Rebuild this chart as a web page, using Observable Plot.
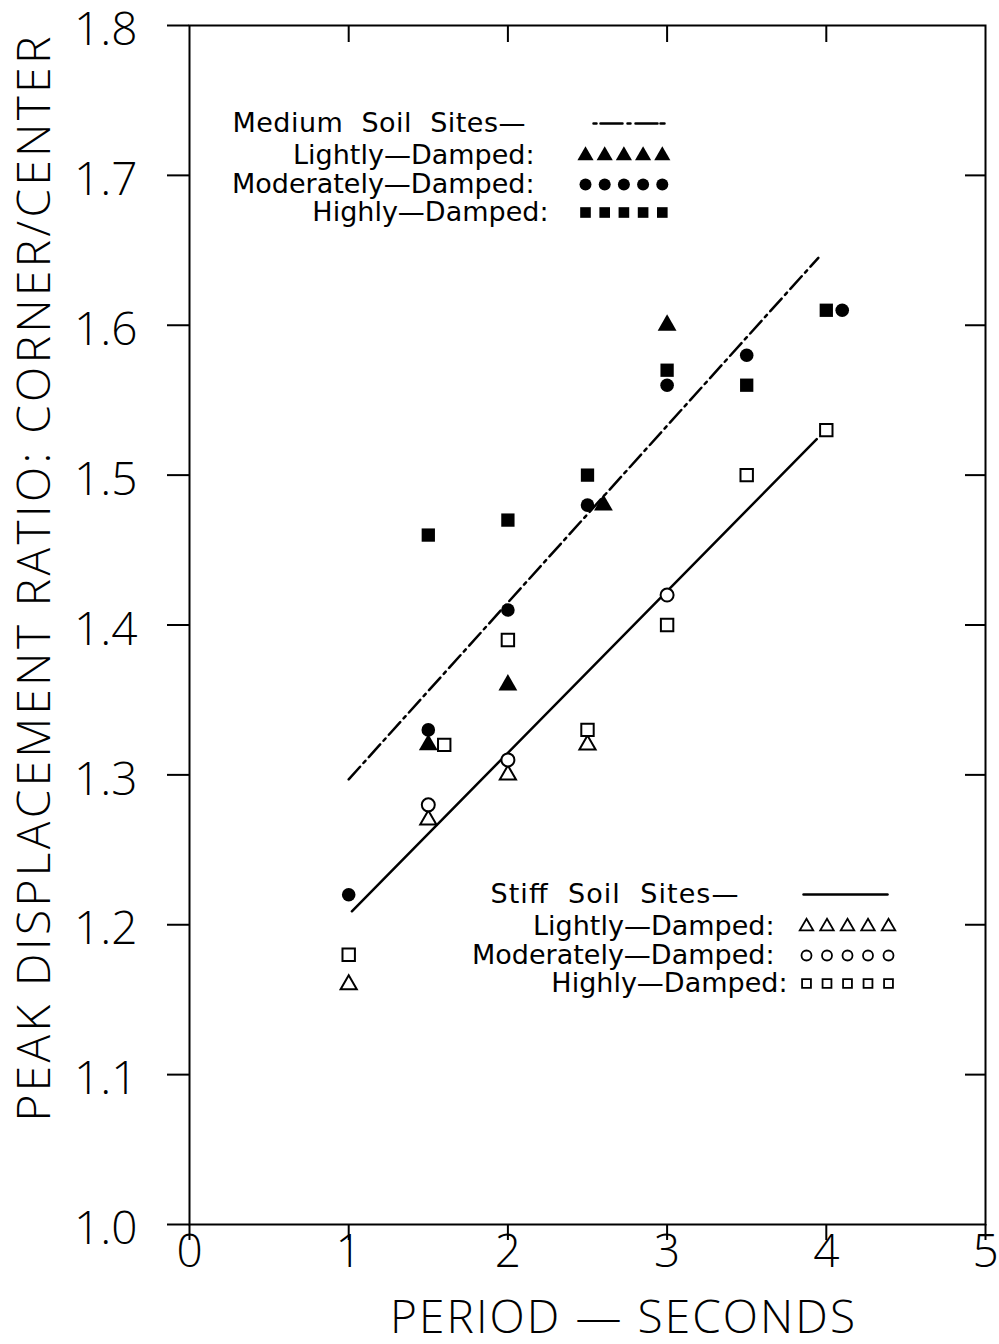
<!DOCTYPE html>
<html>
<head>
<meta charset="utf-8">
<script src="https://cdn.jsdelivr.net/npm/d3@7"></script>
<script src="https://cdn.jsdelivr.net/npm/@observablehq/plot@0.6"></script>
<style>
  html, body { margin: 0; padding: 0; background: #fff; }
</style>
</head>
<body>
<div id="chart"></div>
<script>
// ---------- data ----------
const xTicks = [0, 1, 2, 3, 4, 5];
const yTicks = [1.0, 1.1, 1.2, 1.3, 1.4, 1.5, 1.6, 1.7, 1.8];
const xLabel = "PERIOD — SECONDS";
const yLabel = "PEAK DISPLACEMENT RATIO: CORNER/CENTER";

// Medium soil sites (filled symbols)
const mediumLightX = [1.5, 2.0, 2.6, 3.0];
const mediumLightY = [1.32, 1.36, 1.48, 1.60];
const mediumModX   = [1.0, 1.5, 2.0, 2.5, 3.0, 3.5, 4.1];
const mediumModY   = [1.22, 1.33, 1.41, 1.48, 1.56, 1.58, 1.61];
const mediumHighX  = [1.5, 2.0, 2.5, 3.0, 3.5, 4.0];
const mediumHighY  = [1.46, 1.47, 1.50, 1.57, 1.56, 1.61];

// Stiff soil sites (open symbols)
const stiffLightX = [1.0, 1.5, 2.0, 2.5];
const stiffLightY = [1.16, 1.27, 1.30, 1.32];
const stiffModX   = [1.5, 2.0, 3.0];
const stiffModY   = [1.28, 1.31, 1.42];
const stiffHighX  = [1.0, 1.6, 2.0, 2.5, 3.0, 3.5, 4.0];
const stiffHighY  = [1.18, 1.32, 1.39, 1.33, 1.40, 1.50, 1.53];

// fitted lines (end points)
const mediumFitX = [1.0, 3.95];
const mediumFitY = [1.297, 1.645];
const stiffFitX  = [1.02, 3.94];
const stiffFitY  = [1.209, 1.524];

// legend text
const mediumLegendTitle = "Medium  Soil  Sites—";
const stiffLegendTitle  = "Stiff  Soil  Sites—";
const legendRows = ["Lightly—Damped:", "Moderately—Damped:", "Highly—Damped:"];
const legendSymbols = ["triangle", "circle", "square"];

// ---------- layout ----------
const W = 999, H = 1344;
const mL = 189, mR = 14, mT = 25, mB = 120;
const fw = W - mL - mR, fh = H - mT - mB;
const xDom = [0, 5], yDom = [1.0, 1.8];
const X = px => xDom[0] + (px - mL) / fw * (xDom[1] - xDom[0]);
const Y = py => yDom[1] - (py - mT) / fh * (yDom[1] - yDom[0]);

const zip = (xs, ys) => xs.map((x, i) => ({x, y: ys[i]}));

const tickFont = "'Open Sans', 'DejaVu Sans', sans-serif";
const legendFont = "'DejaVu Sans', sans-serif";

// legend geometry (pixels)
const medRowsY = [123, 155, 184, 212];
const stiffRowsY = [894, 926, 955, 983];
const medSymX0 = 585, medSymStep = 19.2;
const stiffSymX0 = 806, stiffSymStep = 20.5;
const five = [0, 1, 2, 3, 4];

const medLegendSym = legendSymbols.flatMap((s, r) => five.map(k => ({x: X(medSymX0 + k * medSymStep), y: Y(medRowsY[r + 1]), s})));
const stiffLegendSym = legendSymbols.flatMap((s, r) => five.map(k => ({x: X(stiffSymX0 + k * stiffSymStep), y: Y(stiffRowsY[r + 1]), s})));

const medLegendText = legendRows.map((t, r) => ({x: X([534, 534, 548][r]), y: Y(medRowsY[r + 1]), t}));
const stiffLegendText = legendRows.map((t, r) => ({x: X([774, 774, 787][r]), y: Y(stiffRowsY[r + 1]), t}));

const filled = {fill: "black", stroke: "none"};
const open = {fill: "white", stroke: "black", strokeWidth: 2};
const legendFs = 27;

const chart = Plot.plot({
  width: W, height: H,
  marginLeft: mL, marginRight: mR, marginTop: mT, marginBottom: mB,
  x: {domain: xDom},
  y: {domain: yDom},
  style: {fontFamily: tickFont, background: "white", color: "black", overflow: "visible"},
  marks: [
    Plot.frame({stroke: "black", strokeWidth: 2}),
    // left axis: outward ticks
    Plot.axisY({anchor: "left", ticks: yTicks, tickSize: 22, tickFormat: () => "", strokeWidth: 2, label: null}),
    // left axis labels
    Plot.axisY({anchor: "left", ticks: yTicks, tickSize: 0, tickPadding: 52, tickFormat: d3.format(".1f"), fontSize: 46, fontWeight: 300, label: null, dy: 5}),
    // right axis: inward ticks
    Plot.tickY(yTicks.slice(1, -1), {y: d => d, insetLeft: fw - 20, stroke: "black", strokeWidth: 2}),
    // bottom axis
    Plot.axisX({anchor: "bottom", ticks: xTicks, tickSize: 16, tickPadding: -6, tickFormat: d3.format("d"), fontSize: 46, fontWeight: 300, strokeWidth: 2, label: null}),
    // top axis: inward ticks
    Plot.tickX(xTicks.slice(1, -1), {x: d => d, insetBottom: fh - 17, stroke: "black", strokeWidth: 2}),
    // axis titles
    Plot.text([yLabel], {frameAnchor: "left", textAnchor: "middle", rotate: -90, dx: -154, dy: -46, fontSize: 46, fontWeight: 300, fill: "black", className: "ylabel"}),
    Plot.text([xLabel], {frameAnchor: "bottom", textAnchor: "middle", dx: 35, dy: 108, fontSize: 46, fontWeight: 300, fill: "black", className: "xlabel"}),

    // fit lines
    Plot.line(zip(mediumFitX, mediumFitY), {x: "x", y: "y", stroke: "black", strokeWidth: 2.5, strokeDasharray: "17,5,3,5"}),
    Plot.line(zip(stiffFitX, stiffFitY), {x: "x", y: "y", stroke: "black", strokeWidth: 2.5}),

    // stiff (open) points
    Plot.dot(zip(stiffLightX, stiffLightY), {x: "x", y: "y", symbol: "triangle", r: 6, ...open}),
    Plot.dot(zip(stiffModX, stiffModY), {x: "x", y: "y", symbol: "circle", r: 6.5, ...open}),
    Plot.dot(zip(stiffHighX, stiffHighY), {x: "x", y: "y", symbol: "square", r: 7, ...open}),

    // medium (filled) points
    Plot.dot(zip(mediumLightX, mediumLightY), {x: "x", y: "y", symbol: "triangle", r: 7, ...filled}),
    Plot.dot(zip(mediumModX, mediumModY), {x: "x", y: "y", symbol: "circle", r: 6.8, ...filled}),
    Plot.dot(zip(mediumHighX, mediumHighY), {x: "x", y: "y", symbol: "square", r: 7.5, ...filled}),

    // medium legend
    Plot.text([mediumLegendTitle], {x: X(232), y: Y(medRowsY[0]), textAnchor: "start", fontSize: legendFs, fontFamily: legendFont, fill: "black", className: "medtitle"}),
    Plot.line([{x: X(593), y: Y(medRowsY[0])}, {x: X(672), y: Y(medRowsY[0])}], {x: "x", y: "y", stroke: "black", strokeWidth: 2.5, strokeDasharray: "3,4,22,5,3,5,22"}),
    Plot.text(medLegendText, {x: "x", y: "y", text: "t", textAnchor: "end", fontSize: legendFs, fontFamily: legendFont, fill: "black"}),
    Plot.dot(medLegendSym, {x: "x", y: "y", symbol: "s", r: 6, ...filled}),

    // stiff legend
    Plot.text([stiffLegendTitle], {x: X(490), y: Y(stiffRowsY[0]), textAnchor: "start", fontSize: legendFs, fontFamily: legendFont, fill: "black", className: "stifftitle"}),
    Plot.line([{x: X(803), y: Y(stiffRowsY[0])}, {x: X(887), y: Y(stiffRowsY[0])}], {x: "x", y: "y", stroke: "black", strokeWidth: 2.5}),
    Plot.text(stiffLegendText, {x: "x", y: "y", text: "t", textAnchor: "end", fontSize: legendFs, fontFamily: legendFont, fill: "black"}),
    Plot.dot(stiffLegendSym, {x: "x", y: "y", symbol: "s", r: 5, fill: "white", stroke: "black", strokeWidth: 1.8})
  ]
});
// stretch axis titles / legend titles to the reference's lengths
const sel = d3.select(chart);
sel.selectAll(".ylabel text").attr("textLength", 1085).attr("lengthAdjust", "spacing");
sel.selectAll(".xlabel text").attr("textLength", 465).attr("lengthAdjust", "spacing");
sel.selectAll(".medtitle text").attr("textLength", 293).attr("lengthAdjust", "spacing");
sel.selectAll(".stifftitle text").attr("textLength", 248).attr("lengthAdjust", "spacing");
document.getElementById("chart").appendChild(chart);
</script>
</body>
</html>
